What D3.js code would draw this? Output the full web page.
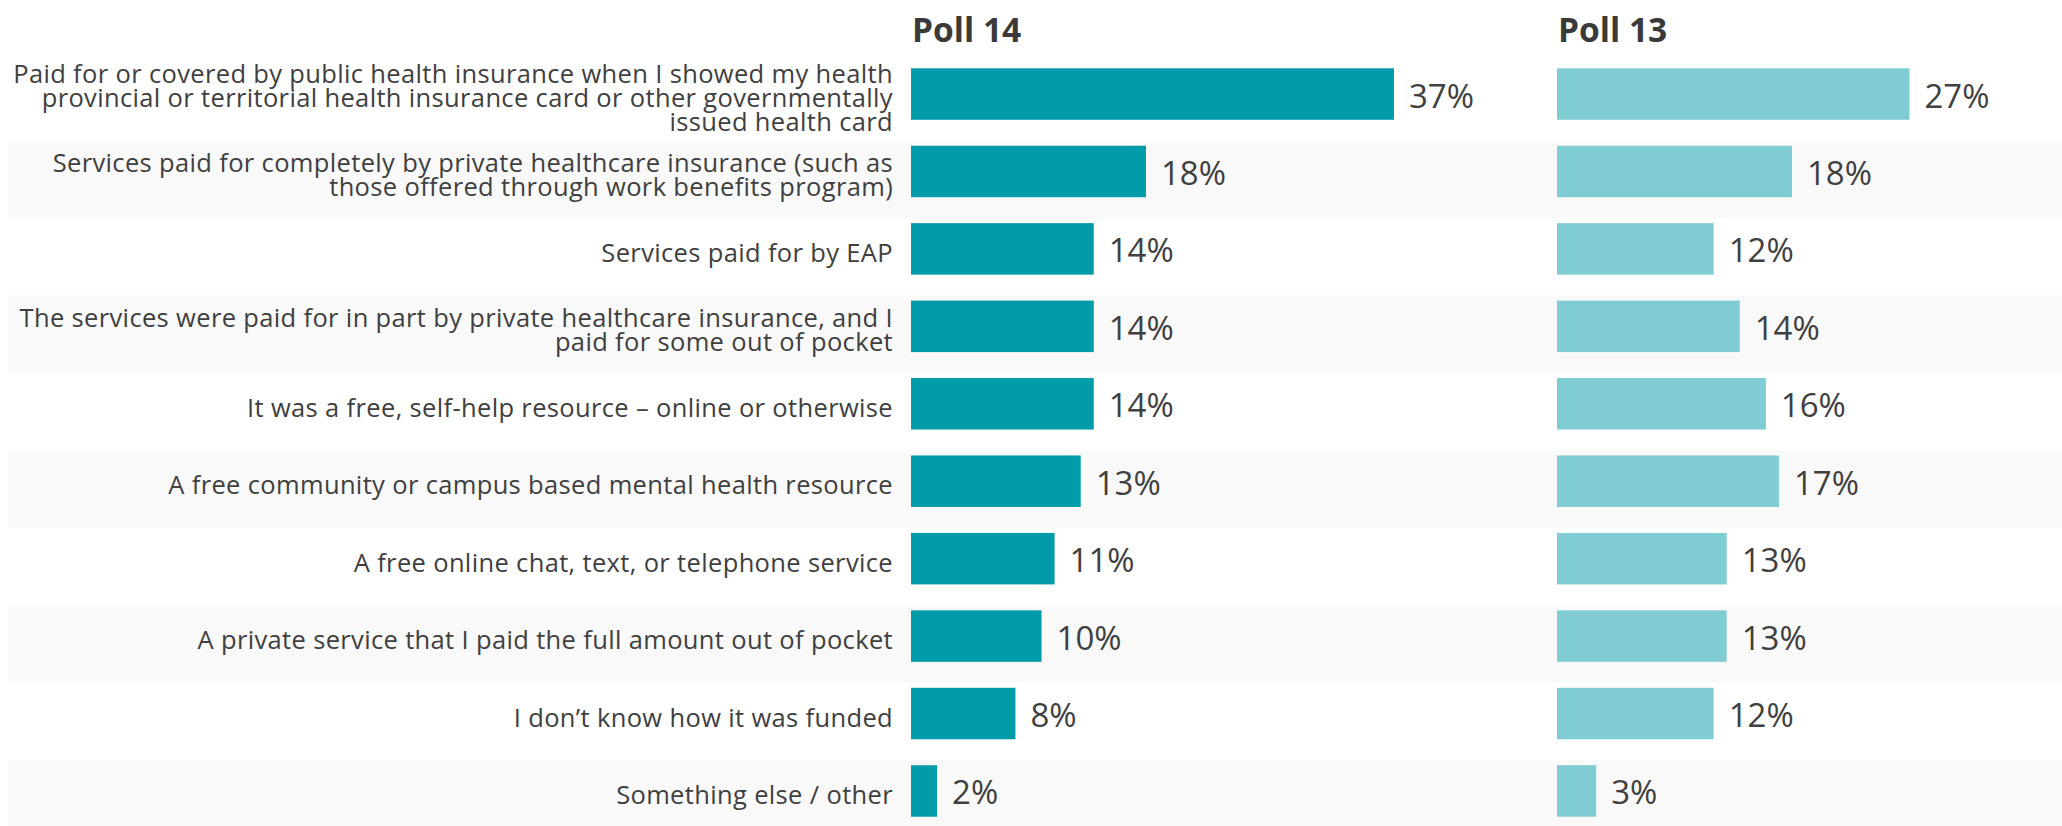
<!DOCTYPE html>
<html>
<head>
<meta charset="utf-8">
<script src="https://cdn.jsdelivr.net/npm/d3@7"></script>
<style>
  html, body { margin: 0; padding: 0; background: #ffffff; }
  svg { display: block; font-family: "Source Sans Pro", "Open Sans", "Noto Sans", sans-serif; }
</style>
</head>
<body>
<svg id="chart" width="2062" height="826"></svg>
<script>
// ---- data ----
const categories = [
  "Paid for or covered by public health insurance when I showed my health\nprovincial or territorial health insurance card or other governmentally\nissued health card",
  "Services paid for completely by private healthcare insurance (such as\nthose offered through work benefits program)",
  "Services paid for by EAP",
  "The services were paid for in part by private healthcare insurance, and I\npaid for some out of pocket",
  "It was a free, self-help resource – online or otherwise",
  "A free community or campus based mental health resource",
  "A free online chat, text, or telephone service",
  "A private service that I paid the full amount out of pocket",
  "I don’t know how it was funded",
  "Something else / other"
];
const poll14 = [37, 18, 14, 14, 14, 13, 11, 10, 8, 2];
const poll13 = [27, 18, 12, 14, 16, 17, 13, 13, 12, 3];
const seriesNames = ["Poll 14", "Poll 13"];
const seriesColors = ["#019ba9", "#80ccd3"];

// ---- layout ----
const W = 2062, H = 826;
const svg = d3.select("#chart");
const labelRight = 893;
const panelStarts = [911, 1557];
const panelWidth = 483;
const textColor = "#404040";

const y = d3.scaleBand()
  .domain(d3.range(categories.length))
  .range([55.3, 55.3 + 77.44 * categories.length])
  .paddingInner(0.335)
  .paddingOuter(0.1675);

const x = d3.scaleLinear()
  .domain([0, d3.max(poll14.concat(poll13))])
  .range([0, panelWidth]);

// stripes on alternating rows
svg.append("g").selectAll("rect")
  .data(d3.range(categories.length).filter(i => i % 2 === 1))
  .join("rect")
  .attr("x", 8)
  .attr("y", i => y(i) - 5)
  .attr("width", W - 8)
  .attr("height", y.step())
  .attr("fill", "#f9f9f9");

// category labels
const lab = svg.append("g")
  .attr("font-size", 25.5)
  .attr("letter-spacing", 0.35)
  .attr("fill", textColor)
  .attr("text-anchor", "end");
categories.forEach((c, i) => {
  const lines = c.split("\n");
  const cy = y(i) + y.bandwidth() / 2;
  const lh = 24;
  const t = lab.append("text");
  lines.forEach((ln, k) => {
    t.append("tspan")
      .attr("x", labelRight)
      .attr("y", cy + 13 + (k - (lines.length - 1) / 2) * lh)
      .text(ln);
  });
});

// panels
[poll14, poll13].forEach((vals, p) => {
  const g = svg.append("g").attr("transform", `translate(${panelStarts[p]},0)`);
  g.append("text")
    .attr("x", 1)
    .attr("y", 41.7)
    .attr("font-size", 33.5)
    .attr("font-weight", 700)
    .attr("fill", "#3a3a3a")
    .text(seriesNames[p]);
  g.selectAll("rect.bar")
    .data(vals)
    .join("rect")
    .attr("class", "bar")
    .attr("x", 0)
    .attr("y", (d, i) => y(i))
    .attr("width", d => x(d))
    .attr("height", y.bandwidth())
    .attr("fill", seriesColors[p]);
  g.selectAll("text.val")
    .data(vals)
    .join("text")
    .attr("class", "val")
    .attr("x", d => x(d) + 15)
    .attr("y", (d, i) => y(i) + y.bandwidth() / 2 + 13.5)
    .attr("font-size", 33)
    .attr("fill", textColor)
    .text(d => d + "%");
});
</script>
</body>
</html>
